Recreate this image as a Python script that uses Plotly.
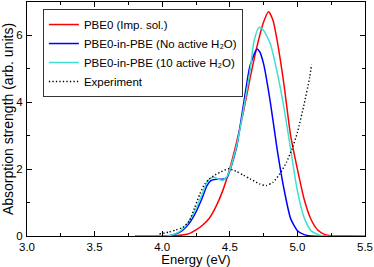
import plotly.graph_objects as go

# Energy grids (eV) and absorption strength (arb. units)
x_imp = [3.8, 4.0, 4.1, 4.15, 4.2, 4.25, 4.3, 4.35, 4.4, 4.45, 4.5, 4.55, 4.6, 4.65, 4.7,
         4.75, 4.786, 4.82, 4.85, 4.9, 4.95, 5.0, 5.05, 5.1, 5.15, 5.2, 5.25, 5.5]
y_imp = [0, 0, 0.01, 0.03, 0.07, 0.18, 0.33, 0.54, 0.9, 1.38, 2.02, 2.8, 3.7, 4.72, 5.65,
         6.4, 6.71, 6.45, 5.85, 4.55, 3.0, 2.0, 1.1, 0.5, 0.18, 0.05, 0.01, 0]

x_noact = [3.8, 4.0, 4.05, 4.1, 4.15, 4.2, 4.25, 4.3, 4.33, 4.36, 4.4, 4.45, 4.48, 4.5,
           4.55, 4.6, 4.65, 4.7, 4.72, 4.75, 4.8, 4.85, 4.9, 4.95, 5.0, 5.05, 5.1, 5.5]
y_noact = [0, 0, 0.01, 0.06, 0.17, 0.38, 0.72, 1.18, 1.5, 1.66, 1.70, 1.70, 1.75, 1.95,
           2.65, 3.9, 5.1, 5.59, 5.52, 5.15, 4.0, 2.6, 1.42, 0.52, 0.16, 0.04, 0.0, 0]

x_10act = [3.8, 4.0, 4.05, 4.1, 4.15, 4.2, 4.25, 4.3, 4.33, 4.36, 4.39, 4.42, 4.45, 4.48,
           4.5, 4.55, 4.6, 4.65, 4.68, 4.717, 4.75, 4.8, 4.85, 4.9, 4.95, 5.0, 5.05, 5.1,
           5.15, 5.2, 5.5]
y_10act = [0, 0, 0.01, 0.07, 0.2, 0.45, 0.82, 1.3, 1.6, 1.74, 1.75, 1.69, 1.67, 1.78,
           1.98, 2.7, 3.75, 4.95, 5.85, 6.24, 6.15, 5.75, 4.9, 3.85, 2.6, 1.35, 0.55, 0.16,
           0.05, 0, 0]

x_exp = [3.98, 4.05, 4.1, 4.15, 4.2, 4.24, 4.28, 4.315, 4.35, 4.4, 4.43, 4.49, 4.55, 4.6,
         4.65, 4.72, 4.77, 4.82, 4.87, 4.92, 4.96, 5.0, 5.05, 5.09, 5.105]
y_exp = [0.06, 0.12, 0.18, 0.25, 0.45, 0.85, 1.27, 1.56, 1.71, 1.85, 1.91, 2.01, 1.93, 1.82,
         1.71, 1.56, 1.51, 1.61, 1.86, 2.21, 2.6, 3.1, 3.95, 4.73, 5.13]

names = ["PBE0 (Imp. sol.)",
         "PBE0-in-PBE (No active H\u2082O)",
         "PBE0-in-PBE (10 active H\u2082O)",
         "Experiment"]

x_ticks = [3.0, 3.5, 4.0, 4.5, 5.0, 5.5]
x_ticklabels = ["3.0", "3.5", "4.0", "4.5", "5.0", "5.5"]
y_ticks = [0, 2, 4, 6]

fig = go.Figure()
fig.add_trace(go.Scatter(x=x_imp, y=y_imp, mode="lines", name=names[0],
                         line=dict(color="#ff0000", width=1.5, shape="spline", smoothing=0.6)))
fig.add_trace(go.Scatter(x=x_noact, y=y_noact, mode="lines", name=names[1],
                         line=dict(color="#0000ff", width=1.5, shape="spline", smoothing=0.6)))
fig.add_trace(go.Scatter(x=x_10act, y=y_10act, mode="lines", name=names[2],
                         line=dict(color="#40e0d0", width=1.5, shape="spline", smoothing=0.6)))
fig.add_trace(go.Scatter(x=x_exp, y=y_exp, mode="lines", name=names[3],
                         line=dict(color="#000000", width=1.4, dash="1.3px,2.2px",
                                   shape="spline", smoothing=0.6)))

axis_common = dict(showline=True, linecolor="black", linewidth=1, mirror="ticks",
                   ticks="inside", ticklen=5, tickcolor="black", showgrid=False,
                   zeroline=False, automargin=False, tickfont=dict(size=11.5, color="black"))

fig.update_layout(
    width=374, height=267,
    margin=dict(l=27, r=9, t=2, b=31, autoexpand=False),
    paper_bgcolor="white", plot_bgcolor="white",
    font=dict(family="Liberation Sans, Arial, sans-serif", size=12, color="black"),
    xaxis=dict(range=[3.0, 5.5], tickvals=x_ticks, ticktext=x_ticklabels, ticklabelstandoff=0,
               minor=dict(ticks="inside", ticklen=3, dtick=0.25, tickcolor="black"),
               title=dict(text="Energy (eV)", font=dict(size=13), standoff=2),
               **axis_common),
    yaxis=dict(range=[0, 7], tickvals=y_ticks, ticklabelstandoff=1,
               minor=dict(ticks="inside", ticklen=3, dtick=1, tickcolor="black"),
               title=dict(text="Absorption strength (arb. units)", font=dict(size=14), standoff=0),
               **axis_common),
    legend=dict(x=0.047, y=0.97, xanchor="left", yanchor="top",
                bgcolor="white", bordercolor="#333333", borderwidth=1,
                font=dict(size=11.5), itemwidth=30, tracegroupgap=0),
    showlegend=True,
)

fig.write_html("out.html", config={"displayModeBar": False},
               post_script="document.body.style.margin='0px';document.body.style.padding='0px';")
